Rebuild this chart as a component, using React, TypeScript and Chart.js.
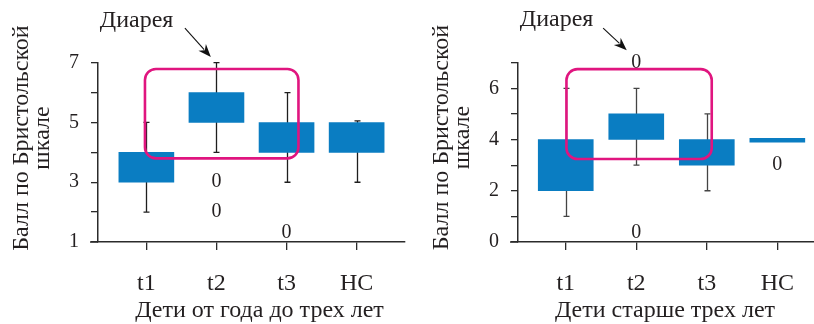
import { useEffect, useRef } from 'react';
import { Chart, registerables } from 'chart.js';

Chart.register(...registerables);

// ---------- data ----------
const categories = ['t1', 't2', 't3', 'НС'];

// Left panel: children from one to three years
const youngBoxLow = [3, 5, 4, 4];
const youngBoxHigh = [4, 6, 5, 5];
const youngWhiskerLow = [2, 4, 3, 3];
const youngWhiskerHigh = [5, 7, 6, 5.05];
const youngOutliers = [[], [3, 2], [1], []];
const youngYTicks = [1, 3, 5, 7];

// Right panel: children older than three years
const olderBoxLow = [2, 4, 3, 3.9];
const olderBoxHigh = [4, 5, 4, 4.05];
const olderWhiskerLow = [1, 3, 2, null];
const olderWhiskerHigh = [6, 6, 5, null];
const olderOutliers = [[], [7, 0], [], [3]];
const olderYTicks = [0, 2, 4, 6];

const outlierLabel = '0';
const noteText = 'Диарея';
const yTitleLines = ['Балл по Бристольской', 'шкале'];
const youngXTitle = 'Дети от года до трех лет';
const olderXTitle = 'Дети старше трех лет';

// ---------- style ----------
const BLUE = '#0A7DC2';
const PINK = '#E0157F';
const AXIS = '#2b2b2b';
const TEXT = '#231f20';
const FAMILY = '"Liberation Serif", "Times New Roman", serif';
const DIGIT_SIZE = 20;
const TEXT_SIZE = 24;

type PanelCfg = {
  boxLow: number[];
  boxHigh: number[];
  wLow: (number | null)[];
  wHigh: (number | null)[];
  outliers: number[][];
  yMin: number;
  yMax: number;
  yLabels: number[];
  xMin: number;
  xMax: number;
  yAxisWidth: number;
  padTop: number;
  padRight: number;
  frame: { x0: number; x1: number; y0: number; y1: number };
  note: { x: number; y: number };
  arrow: { x0: number; y0: number; x1: number; y1: number };
  yTitleX: [number, number];
  yTitleY: number;
  xTitle: string;
  xTitleX: number;
  xTitleY: number;
  whiskerColor: string;
};

const extras = {
  id: 'boxExtras',
  beforeDatasetsDraw(chart: any, _a: any, cfg: PanelCfg) {
    const { ctx, scales } = chart;
    const xs = scales.x;
    const ys = scales.y;
    ctx.save();
    ctx.strokeStyle = cfg.whiskerColor;
    ctx.lineWidth = 1.3;
    categories.forEach((_, i) => {
      const lo = cfg.wLow[i];
      const hi = cfg.wHigh[i];
      if (lo == null || hi == null) return;
      const x = Math.round(xs.getPixelForValue(i)) + 0.5;
      const yl = ys.getPixelForValue(lo);
      const yh = ys.getPixelForValue(hi);
      ctx.beginPath();
      ctx.moveTo(x, yl);
      ctx.lineTo(x, yh);
      ctx.moveTo(x - 3, yl);
      ctx.lineTo(x + 3, yl);
      ctx.moveTo(x - 3, yh);
      ctx.lineTo(x + 3, yh);
      ctx.stroke();
    });
    ctx.restore();
  },
  afterDatasetsDraw(chart: any, _a: any, cfg: PanelCfg) {
    const { ctx, scales, chartArea } = chart;
    const xs = scales.x;
    const ys = scales.y;
    ctx.save();
    ctx.strokeStyle = AXIS;
    ctx.lineWidth = 1.5;
    ctx.beginPath();
    ctx.moveTo(chartArea.left - 8, chartArea.bottom);
    ctx.lineTo(chartArea.left, chartArea.bottom);
    ctx.stroke();

    // outliers
    ctx.fillStyle = TEXT;
    ctx.font = `${DIGIT_SIZE}px ${FAMILY}`;
    ctx.textAlign = 'center';
    ctx.textBaseline = 'middle';
    cfg.outliers.forEach((vals, i) => {
      vals.forEach((v) => {
        const x = xs.getPixelForValue(i);
        let y = ys.getPixelForValue(v);
        y = Math.min(y, chartArea.bottom - 9);
        ctx.fillText(outlierLabel, x, y);
      });
    });

    // pink frame
    const fx0 = xs.getPixelForValue(cfg.frame.x0);
    const fx1 = xs.getPixelForValue(cfg.frame.x1);
    const fy0 = ys.getPixelForValue(cfg.frame.y0);
    const fy1 = ys.getPixelForValue(cfg.frame.y1);
    ctx.strokeStyle = PINK;
    ctx.lineWidth = 2.6;
    ctx.beginPath();
    ctx.roundRect(Math.min(fx0, fx1), Math.min(fy0, fy1), Math.abs(fx1 - fx0), Math.abs(fy1 - fy0), 11);
    ctx.stroke();

    // note text
    ctx.fillStyle = TEXT;
    ctx.font = `${TEXT_SIZE}px ${FAMILY}`;
    ctx.fillText(noteText, xs.getPixelForValue(cfg.note.x), ys.getPixelForValue(cfg.note.y));

    // arrow
    const ax0 = xs.getPixelForValue(cfg.arrow.x0);
    const ay0 = ys.getPixelForValue(cfg.arrow.y0);
    const ax1 = xs.getPixelForValue(cfg.arrow.x1);
    const ay1 = ys.getPixelForValue(cfg.arrow.y1);
    const ang = Math.atan2(ay1 - ay0, ax1 - ax0);
    const L = 13;
    const W = 5;
    ctx.strokeStyle = '#111';
    ctx.lineWidth = 1.1;
    ctx.beginPath();
    ctx.moveTo(ax0, ay0);
    ctx.lineTo(ax1 - Math.cos(ang) * (L - 3), ay1 - Math.sin(ang) * (L - 3));
    ctx.stroke();
    ctx.fillStyle = '#111';
    ctx.beginPath();
    ctx.moveTo(ax1, ay1);
    const bx = ax1 - Math.cos(ang) * L;
    const by = ay1 - Math.sin(ang) * L;
    const nx = -Math.sin(ang);
    const ny = Math.cos(ang);
    ctx.lineTo(bx + nx * W, by + ny * W);
    ctx.lineTo(ax1 - Math.cos(ang) * (L - 4), ay1 - Math.sin(ang) * (L - 4));
    ctx.lineTo(bx - nx * W, by - ny * W);
    ctx.closePath();
    ctx.fill();

    // y title (rotated)
    ctx.fillStyle = TEXT;
    ctx.font = `${TEXT_SIZE}px ${FAMILY}`;
    yTitleLines.forEach((line, k) => {
      ctx.save();
      ctx.translate(cfg.yTitleX[k], cfg.yTitleY);
      ctx.rotate(-Math.PI / 2);
      ctx.fillText(line, 0, 0);
      ctx.restore();
    });
    // x title
    ctx.fillText(cfg.xTitle, cfg.xTitleX, cfg.xTitleY);
    ctx.restore();
  },
};

function Panel({ cfg }: { cfg: PanelCfg }) {
  const ref = useRef<HTMLCanvasElement>(null);
  useEffect(() => {
    const chart = new Chart(ref.current as HTMLCanvasElement, {
      type: 'bar',
      data: {
        datasets: [
          {
            data: cfg.boxLow.map((lo, i) => ({ x: i, y: [lo, cfg.boxHigh[i]] })) as any,
            backgroundColor: BLUE,
            borderWidth: 0,
            barThickness: 55,
          },
        ],
      },
      options: {
        animation: false,
        responsive: false,
        maintainAspectRatio: false,
        layout: { padding: { top: cfg.padTop, right: cfg.padRight, left: 0, bottom: 0 } },
        plugins: {
          legend: { display: false },
          tooltip: { enabled: false },
          boxExtras: cfg,
        } as any,
        scales: {
          x: {
            type: 'linear',
            offset: false,
            min: cfg.xMin,
            max: cfg.xMax,
            afterBuildTicks: (s: any) => {
              s.ticks = categories.map((_, i) => ({ value: i }));
            },
            ticks: {
              callback: (v: any) => categories[v] ?? '',
              font: { family: FAMILY, size: TEXT_SIZE },
              color: TEXT,
              padding: 19,
              autoSkip: false,
              maxRotation: 0,
            },
            grid: { offset: false, drawOnChartArea: false, drawTicks: true, tickLength: 8, color: AXIS, lineWidth: 1.3 },
            border: { color: AXIS, width: 1.5 },
            afterFit: (s: any) => {
              s.height = 82;
            },
          } as any,
          y: {
            min: cfg.yMin,
            max: cfg.yMax,
            ticks: {
              stepSize: 1,
              callback: (v: any) => (cfg.yLabels.includes(v) ? String(v) : ''),
              font: { family: FAMILY, size: DIGIT_SIZE },
              color: TEXT,
              padding: 12,
              autoSkip: false,
            },
            grid: { drawOnChartArea: false, drawTicks: true, tickLength: 7, color: AXIS, lineWidth: 1.3 },
            border: { color: AXIS, width: 1.5 },
            afterFit: (s: any) => {
              s.width = cfg.yAxisWidth;
            },
          } as any,
        },
      },
      plugins: [extras as any],
    });
    return () => chart.destroy();
  }, [cfg]);
  return <canvas ref={ref} width={407} height={324} style={{ width: 407, height: 324, display: 'block' }} />;
}

const youngCfg: PanelCfg = {
  boxLow: youngBoxLow,
  boxHigh: youngBoxHigh,
  wLow: youngWhiskerLow,
  wHigh: youngWhiskerHigh,
  outliers: youngOutliers,
  yMin: 1,
  yMax: 7,
  yLabels: youngYTicks,
  xMin: -0.69,
  xMax: 3.69,
  yAxisWidth: 98,
  padTop: 62.7,
  padRight: 2,
  frame: { x0: -0.02, x1: 2.17, y0: 3.8, y1: 6.79 },
  note: { x: -0.14, y: 8.4 },
  arrow: { x0: 0.55, y0: 8.16, x1: 0.92, y1: 7.19 },
  yTitleX: [22, 43],
  yTitleY: 138,
  xTitle: youngXTitle,
  xTitleX: 259.5,
  xTitleY: 311,
  whiskerColor: '#1e1e1e',
};

const olderCfg: PanelCfg = {
  boxLow: olderBoxLow,
  boxHigh: olderBoxHigh,
  wLow: olderWhiskerLow,
  wHigh: olderWhiskerHigh,
  outliers: olderOutliers,
  yMin: 0,
  yMax: 7,
  yLabels: olderYTicks,
  xMin: -0.677,
  xMax: 3.52,
  yAxisWidth: 111,
  padTop: 62.7,
  padRight: 0,
  frame: { x0: 0.01, x1: 2.07, y0: 3.24, y1: 6.75 },
  note: { x: -0.13, y: 8.66 },
  arrow: { x0: 0.53, y0: 8.35, x1: 0.865, y1: 7.49 },
  yTitleX: [35, 56],
  yTitleY: 137.5,
  xTitle: olderXTitle,
  xTitleX: 258,
  xTitleY: 311,
  whiskerColor: '#444',
};

export default function App() {
  return (
    <div style={{ position: 'fixed', left: 0, top: 0, width: 814, height: 324, display: 'flex', background: '#fff' }}>
      <Panel cfg={youngCfg} />
      <Panel cfg={olderCfg} />
    </div>
  );
}
